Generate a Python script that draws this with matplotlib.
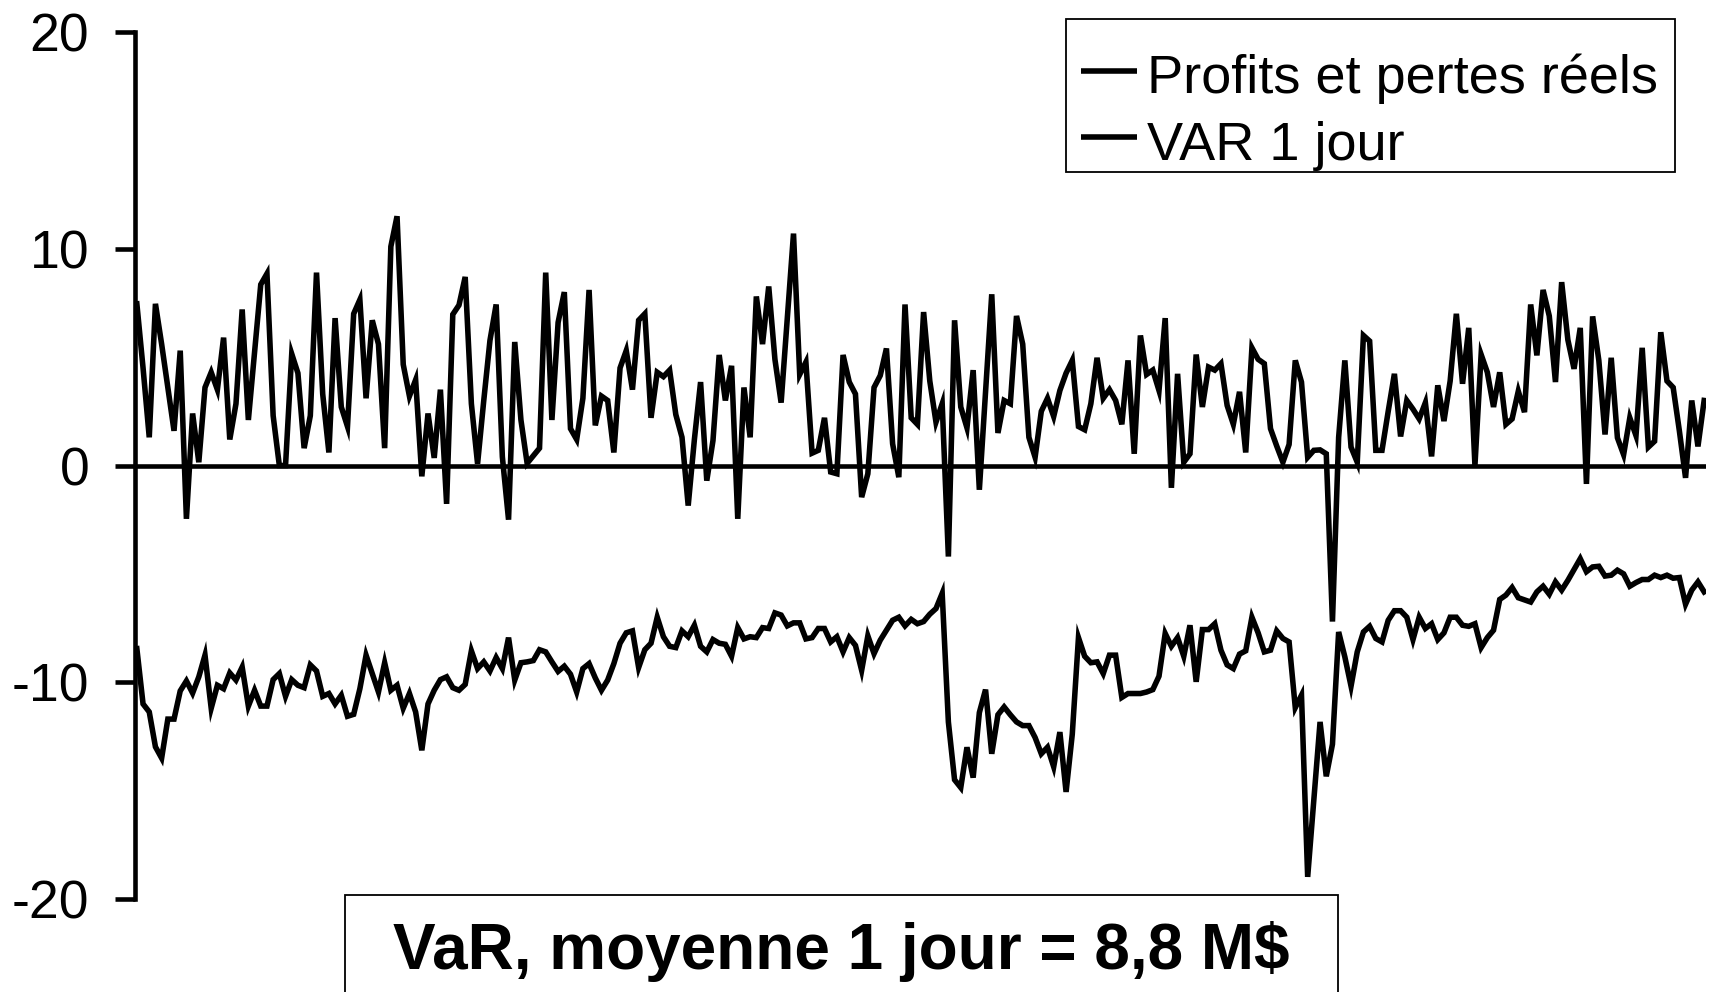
import matplotlib
matplotlib.use("Agg")
import matplotlib.pyplot as plt
from matplotlib.lines import Line2D
from matplotlib.patches import Rectangle
import numpy as np

# ---------------- data ----------------
pnl = [
    7.46, 4.5, 1.3, 7.46, 5.6, 3.6, 1.6, 5.3, -2.46, 2.4,
    0.15, 3.6, 4.3, 3.5, 5.9, 1.2, 2.85, 7.2, 2.1, 5.2,
    8.35, 8.85, 2.3, 0.0, 0.0, 5.15, 4.26, 0.8, 2.3, 8.9,
    3.3, 0.6, 6.8, 2.7, 1.8, 7.0, 7.65, 3.1, 6.7, 5.6,
    0.8, 10.1, 11.5, 4.66, 3.2, 3.95, -0.5, 2.4, 0.35, 3.5,
    -1.77, 6.97, 7.4, 8.7, 2.85, 0.08, 3.0, 5.77, 7.43, 0.4,
    -2.5, 5.7, 2.1, 0.1, 0.45, 0.8, 8.9, 2.1, 6.6, 8.0,
    1.7, 1.2, 3.1, 8.1, 1.85, 3.2, 3.0, 0.6, 4.5, 5.3,
    3.5, 6.7, 7.0, 2.2, 4.3, 4.1, 4.4, 2.35, 1.3, -1.85,
    1.2, 3.85, -0.7, 1.15, 5.1, 3.0, 4.6, -2.46, 3.6, 1.3,
    7.8, 5.6, 8.26, 4.9, 2.9, 6.8, 10.7, 4.2, 4.77, 0.57,
    0.7, 2.2, -0.3, -0.38, 5.1, 3.85, 3.3, -1.46, -0.38, 3.6,
    4.15, 5.4, 1.0, -0.54, 7.43, 2.2, 1.9, 7.08, 3.9, 2.0,
    2.85, -4.2, 6.7, 2.7, 1.74, 4.4, -1.12, 3.4, 7.9, 1.5,
    3.0, 2.85, 6.9, 5.6, 1.3, 0.38, 2.5, 3.1, 2.26, 3.46,
    4.26, 4.85, 1.8, 1.65, 2.85, 4.97, 3.1, 3.5, 3.0, 1.9,
    4.85, 0.54, 6.0, 4.2, 4.4, 3.46, 6.8, -1.03, 4.23, 0.15,
    0.54, 5.12, 2.7, 4.54, 4.4, 4.7, 2.77, 1.9, 3.4, 0.6,
    5.43, 4.9, 4.7, 1.7, 0.9, 0.15, 0.97, 4.85, 3.85, 0.38,
    0.7, 0.72, 0.54, -7.2, 1.3, 4.85, 0.85, 0.15, 6.0, 5.74,
    0.7, 0.7, 2.5, 4.23, 1.34, 3.0, 2.6, 2.15, 2.9, 0.42,
    3.7, 2.05, 3.9, 7.0, 3.77, 6.35, 0.0, 5.12, 4.3, 2.7,
    4.3, 1.9, 2.15, 3.43, 2.46, 7.43, 5.08, 8.1, 6.9, 3.85,
    8.46, 5.8, 4.46, 6.35, -0.85, 6.88, 4.85, 1.43, 4.97, 1.28,
    0.5, 2.2, 1.38, 5.43, 0.85, 1.12, 6.15, 3.9, 3.6, 1.6,
    -0.57, 3.0, 0.88, 3.0,
]

var_1d = [
    -8.45, -11.0, -11.37, -12.98, -13.5, -11.7, -11.7, -10.4, -9.94, -10.5,
    -9.75, -8.75, -11.2, -10.14, -10.3, -9.57, -9.9, -9.3, -11.1, -10.37,
    -11.1, -11.1, -9.88, -9.6, -10.65, -9.88, -10.14, -10.25, -9.2, -9.48,
    -10.65, -10.52, -11.0, -10.6, -11.57, -11.48, -10.3, -8.75, -9.6, -10.45,
    -9.1, -10.37, -10.14, -11.2, -10.52, -11.37, -13.14, -11.0, -10.37, -9.88,
    -9.75, -10.25, -10.37, -10.1, -8.55, -9.37, -9.06, -9.48, -8.86, -9.37,
    -7.94, -9.9, -9.1, -9.06, -9.0, -8.5, -8.6, -9.06, -9.5, -9.26,
    -9.63, -10.45, -9.37, -9.14, -9.8, -10.37, -9.9, -9.14, -8.2, -7.72,
    -7.63, -9.32, -8.5, -8.2, -7.0, -7.9, -8.34, -8.4, -7.63, -7.9,
    -7.37, -8.34, -8.6, -8.03, -8.2, -8.25, -8.8, -7.48, -8.0, -7.9,
    -7.94, -7.48, -7.52, -6.8, -6.9, -7.4, -7.26, -7.26, -8.0, -7.94,
    -7.52, -7.52, -8.14, -7.9, -8.6, -7.94, -8.3, -9.45, -7.86, -8.68,
    -8.06, -7.6, -7.14, -7.0, -7.4, -7.1, -7.3, -7.2, -6.86, -6.6,
    -5.9, -11.83, -14.5, -14.86, -13.0, -14.4, -11.4, -10.34, -13.3, -11.5,
    -11.14, -11.5, -11.83, -12.0, -12.0, -12.55, -13.3, -13.0, -13.9, -12.3,
    -15.06, -12.4, -7.94, -8.8, -9.1, -9.06, -9.6, -8.75, -8.75, -10.7,
    -10.52, -10.52, -10.52, -10.45, -10.34, -9.72, -7.75, -8.34, -7.94, -8.8,
    -7.37, -9.98, -7.57, -7.57, -7.3, -8.52, -9.2, -9.37, -8.7, -8.55,
    -7.0, -7.72, -8.6, -8.52, -7.63, -7.98, -8.14, -11.17, -10.6, -18.98,
    -15.4, -11.83, -14.34, -12.86, -7.68, -8.83, -10.18, -8.6, -7.68, -7.42,
    -7.98, -8.14, -7.14, -6.7, -6.7, -7.0, -8.03, -7.0, -7.52, -7.3,
    -8.03, -7.72, -7.0, -7.0, -7.37, -7.42, -7.3, -8.4, -7.94, -7.6,
    -6.18, -5.98, -5.63, -6.1, -6.2, -6.3, -5.83, -5.57, -5.94, -5.37,
    -5.75, -5.3, -4.8, -4.3, -4.9, -4.68, -4.65, -5.1, -5.06, -4.83,
    -5.0, -5.57, -5.4, -5.26, -5.26, -5.06, -5.17, -5.06, -5.2, -5.17,
    -6.4, -5.75, -5.37, -5.83,
]

y_ticks = [-20, -10, 0, 10, 20]
y_tick_labels = ["-20", "-10", "0", "10", "20"]
series_labels = ["Profits et pertes réels", "VAR 1 jour"]
note_text = "VaR, moyenne 1 jour = 8,8 M$"

# ---------------- figure ----------------
W, H, DPI = 1717, 992, 100
plt.rcParams["font.family"] = ["Liberation Sans", "DejaVu Sans"]
plt.rcParams["axes.unicode_minus"] = False

fig = plt.figure(figsize=(W / DPI, H / DPI), dpi=DPI)
fig.patch.set_facecolor("white")


def fx(px):
    return px / W


def fy(py):
    return 1 - py / H


ax_left, ax_right = fx(135), fx(1706)
ax_top, ax_bottom = fy(32), fy(899)
ax = fig.add_axes([ax_left, ax_bottom, ax_right - ax_left, ax_top - ax_bottom])

days = np.arange(len(pnl))
lw = 4.0
ax.plot(days, pnl, color="black", lw=lw, solid_joinstyle="miter")
ax.plot(days, var_1d, color="black", lw=lw, solid_joinstyle="miter")
ax.axhline(0, color="black", lw=3.3, zorder=1)

ax.set_xlim(-0.3, len(pnl) - 1 + 0.3)
ax.set_ylim(-20, 20)
ax.set_yticks(y_ticks)
ax.set_yticklabels(y_tick_labels)
ax.set_xticks([])
ax.tick_params(axis="y", direction="out", length=14.5, width=3.3, pad=18.5, labelsize=38.5)
for s in ["top", "right", "bottom"]:
    ax.spines[s].set_visible(False)
ax.spines["left"].set_linewidth(3.3)
ax.patch.set_visible(False)

# ---------------- legend (drawn in figure pixels to match the reference box) ----------------
leg_x0, leg_x1, leg_y0, leg_y1 = 1066, 1675, 19, 172
fig.patches.append(Rectangle((fx(leg_x0), fy(leg_y1)), fx(leg_x1) - fx(leg_x0), fy(leg_y0) - fy(leg_y1),
                             transform=fig.transFigure, facecolor="white", edgecolor="black",
                             lw=1.3, zorder=5))
row_handle_y = [71, 137]
row_baseline_y = [93, 160]
for lab, hy, by in zip(series_labels, row_handle_y, row_baseline_y):
    fig.add_artist(Line2D([fx(1081), fx(1137)], [fy(hy), fy(hy)], transform=fig.transFigure,
                          color="black", lw=lw, solid_capstyle="butt", zorder=6))
    fig.text(fx(1147), fy(by), lab, ha="left", va="baseline", fontsize=39, zorder=6)

# ---------------- bottom note box (extends past the bottom edge) ----------------
box_x0, box_x1, box_top = 345, 1338, 895
fig.patches.append(Rectangle((fx(box_x0), -0.05), fx(box_x1) - fx(box_x0), 0.05 + fy(box_top),
                             transform=fig.transFigure, facecolor="white",
                             edgecolor="black", lw=1.3, clip_on=False, zorder=5))
fig.text(fx((box_x0 + box_x1) / 2), fy(969), note_text, ha="center", va="baseline",
         fontsize=46, fontweight="bold", zorder=6)

fig.savefig("out.png", dpi=DPI, facecolor="white")
